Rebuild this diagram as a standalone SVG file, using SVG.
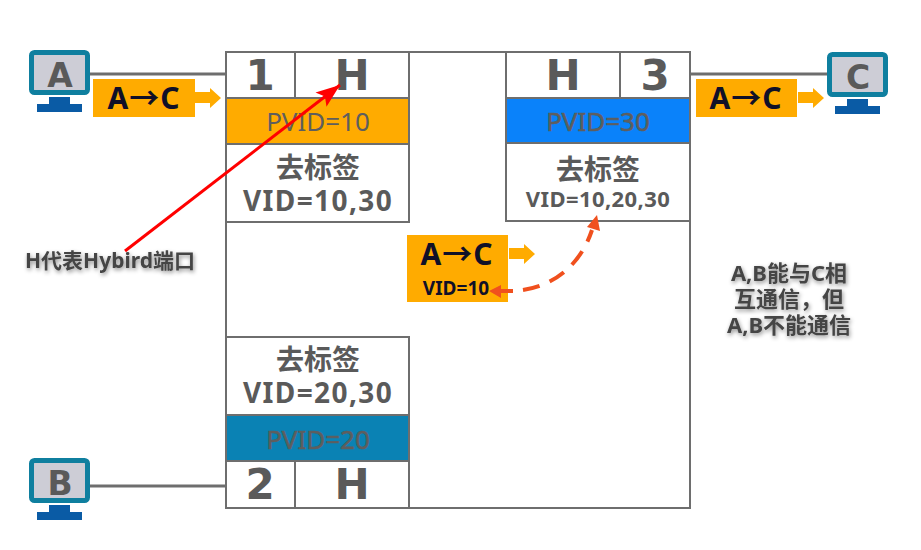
<svg xmlns="http://www.w3.org/2000/svg" width="921" height="550" viewBox="0 0 921 550">
<defs>
<filter id="sh" x="-20%" y="-40%" width="140%" height="180%"><feDropShadow dx="1" dy="2" stdDeviation="2" flood-color="#000" flood-opacity="0.45"/></filter>
<marker id="red" markerUnits="userSpaceOnUse" markerWidth="26" markerHeight="20" refX="24" refY="10" orient="auto"><path d="M0 1L24 10L0 19L5 10Z" fill="#f00"/></marker>
<path id="flow" d="M0 13H15V9L26 19L15 29V24H0Z" fill="#ffab00"/>
<g id="mon"><rect x="31.500" y="2.500" width="56" height="40" rx="3" fill="#cdcdd6" stroke="#0f7f9f" stroke-width="5"/><path d="M49 47H70V54H82V62H37V54H49Z" fill="#0a5ba5"/></g>
</defs>
<style>
text{font-family:"Noto Sans","Noto Sans CJK SC",sans-serif;font-weight:700;text-anchor:middle}
.b{fill:#fff;stroke:#6e6e6e;stroke-width:2}
.ln{stroke:#6e6e6e;stroke-width:2;fill:none}
.wire{stroke:#6e6e6e;stroke-width:3;fill:none}
.g{fill:#5a5a5a}
.port{font-size:42px;font-family:"DejaVu Sans",sans-serif;font-weight:700}
.pc{font-size:33px;font-family:"DejaVu Sans",sans-serif;font-weight:700}
.p{font-size:26px;font-weight:400;fill:#5e5e5e}
.pd{stroke:#5e5e5e;stroke-width:.6}
.cn{font-size:28px}
.v{font-size:28px;letter-spacing:1.4px}
.v3{font-size:22px;letter-spacing:.4px}
.tag{fill:#ffab00}
.k{fill:#101028;font-size:30px;letter-spacing:1px}
.vk{font-size:19px;fill:#101028}
.note{font-size:21px;fill:#444;filter:url(#sh)}
.noteb{font-size:22px;fill:#444;filter:url(#sh)}
</style>
<rect width="921" height="550" fill="#fff"/>
<g id="switch"><rect class="b" x="226" y="52" width="464" height="456"/></g>
<g id="connectors">
<path class="wire" d="M89 74H226M690 74H827M89 486H226"/>
</g>
<g id="port1">
<rect class="b" x="226" y="52" width="183" height="170"/>
<path class="ln" d="M295 52V98"/>
<rect x="226" y="98" width="183" height="46" fill="#ffab00" stroke="#6e6e6e" stroke-width="2"/>
<text class="port g" x="260" y="90">1</text><text class="port g" x="352" y="90">H</text>
<text class="p" x="318" y="131">PVID=10</text>
<text class="cn g" x="318" y="178">去标签</text>
<text class="v g" x="318" y="211">VID=10,30</text>
</g>
<g id="port3">
<rect class="b" x="506" y="52" width="184" height="169"/>
<path class="ln" d="M620 52V98"/>
<rect x="506" y="98" width="184" height="45" fill="#0a82fa" stroke="#6e6e6e" stroke-width="2"/>
<text class="port g" x="563" y="90">H</text><text class="port g" x="655" y="90">3</text>
<text class="p pd" x="598" y="131">PVID=30</text>
<text class="cn g" x="598" y="180">去标签</text>
<text class="v3 g" x="598" y="207">VID=10,20,30</text>
</g>
<g id="port2">
<rect class="b" x="226" y="337" width="183" height="171"/>
<rect x="226" y="415" width="183" height="46" fill="#0a82b4" stroke="#6e6e6e" stroke-width="2"/>
<path class="ln" d="M295 461V508"/>
<text class="cn g" x="318" y="370">去标签</text>
<text class="v g" x="318" y="403">VID=20,30</text>
<text class="p pd" x="318" y="449">PVID=20</text>
<text class="port g" x="260" y="499">2</text><text class="port g" x="352" y="499">H</text>
</g>
<g id="pcA"><use href="#mon" y="50"/><text class="pc g" x="60" y="87">A</text></g>
<g id="pcB"><use href="#mon" y="458"/><text class="pc g" x="60" y="495">B</text></g>
<g id="pcC"><use href="#mon" x="798" y="52"/><text class="pc g" x="858" y="89">C</text></g>
<g id="tagA"><rect class="tag" x="93" y="79" width="102" height="38"/><use href="#flow" x="195" y="79"/><text class="k" x="144" y="109">A→C</text></g>
<g id="tagC"><rect class="tag" x="696" y="79" width="101" height="38"/><use href="#flow" x="798" y="79"/><text class="k" x="746" y="109">A→C</text></g>
<g id="tagMid"><rect class="tag" x="407" y="235" width="101" height="67"/><use href="#flow" x="509" y="235"/><text class="k" x="457" y="265">A→C</text><text class="vk" x="456" y="295">VID=10</text></g>
<g id="annotations">
<path d="M125 251L340 85" stroke="#f00" stroke-width="3" fill="none" marker-end="url(#red)"/>
<path d="M500 291H513" stroke="#f0501e" stroke-width="4" fill="none"/>
<path d="M523 290C560 284 582 260 592 230" stroke="#f0501e" stroke-width="4" fill="none" stroke-dasharray="17 11"/>
<path d="M489 291L501 285V298Z" fill="#f0501e"/>
<path d="M597 215L600 231L587 227Z" fill="#f0501e"/>
<text class="note" x="110" y="268">H代表Hybird端口</text>
<text class="noteb" x="789" y="281">A,B能与C相</text>
<text class="noteb" x="789" y="307">互通信，但</text>
<text class="noteb" x="789" y="333">A,B不能通信</text>
</g>
</svg>
